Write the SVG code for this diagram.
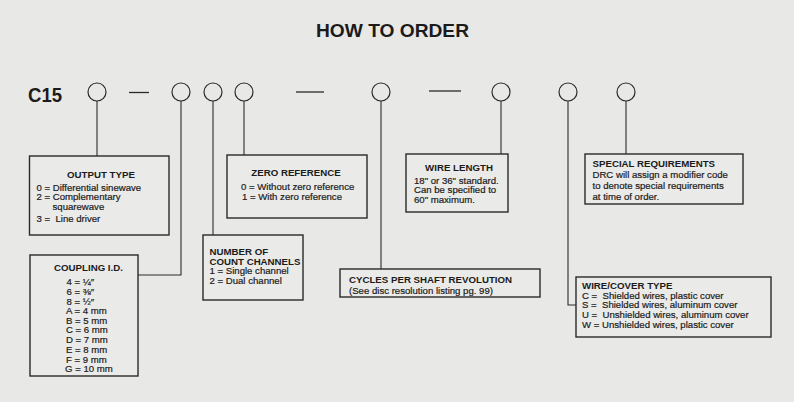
<svg xmlns="http://www.w3.org/2000/svg" width="794" height="402" viewBox="0 0 794 402">
<style>
  text { font-family: "Liberation Sans", Arial, Helvetica, sans-serif; fill: #1b1b1b; }
  .t { font-weight: bold; font-size: 9.7px; }
  .b { font-size: 9.6px; stroke: #1b1b1b; stroke-width: 0.2; }
  .c { text-anchor: middle; }
  .box { fill: #eaeae8; stroke: #2a2a2a; stroke-width: 1.4; }
  .pos { fill: none; stroke: #2a2a2a; stroke-width: 1.2; }
  .ln { fill: none; stroke: #2a2a2a; stroke-width: 1.1; }
  .dash { stroke: #2a2a2a; stroke-width: 1.3; }
</style>
<rect x="0" y="0" width="794" height="402" fill="#e8e8e6"/>

<g id="title">
  <text x="316" y="36.5" font-size="19" font-weight="bold" textLength="153" lengthAdjust="spacingAndGlyphs">HOW TO ORDER</text>
</g>

<g id="code">
  <text x="28" y="101.5" font-size="21" font-weight="bold" textLength="34" lengthAdjust="spacingAndGlyphs">C15</text>
  <circle class="pos" cx="97" cy="92" r="9"/>
  <line class="dash" x1="129" y1="92.5" x2="149" y2="92.5"/>
  <circle class="pos" cx="181" cy="92" r="9"/>
  <circle class="pos" cx="213" cy="92" r="9"/>
  <circle class="pos" cx="244" cy="92" r="9"/>
  <line class="dash" x1="296" y1="92" x2="324" y2="92"/>
  <circle class="pos" cx="381" cy="92" r="9"/>
  <line class="dash" x1="429" y1="91" x2="461" y2="91"/>
  <circle class="pos" cx="501" cy="92" r="9"/>
  <circle class="pos" cx="568" cy="92" r="9"/>
  <circle class="pos" cx="626" cy="92" r="9"/>
</g>

<g id="connectors">
  <polyline class="ln" points="97,101 97,156"/>
  <polyline class="ln" points="181,101 181,275 138,275"/>
  <polyline class="ln" points="213,101 213,235"/>
  <polyline class="ln" points="244,101 244,155"/>
  <polyline class="ln" points="381,101 381,269"/>
  <polyline class="ln" points="501,101 501,154"/>
  <polyline class="ln" points="568,101 568,305 576,305"/>
  <polyline class="ln" points="626,101 626,154"/>
</g>

<g id="output-type">
  <rect class="box" x="29.5" y="156" width="139.5" height="79"/>
  <text class="t c" x="101" y="177.5">OUTPUT TYPE</text>
  <text class="b" x="36.5" y="190.5">0 = Differential sinewave</text>
  <text class="b" x="36.5" y="200.3">2 = Complementary</text>
  <text class="b" x="52.5" y="210.1">squarewave</text>
  <text class="b" x="36.5" y="222">3 = &#160;Line driver</text>
</g>

<g id="coupling-id">
  <rect class="box" x="30" y="255" width="108" height="121"/>
  <text class="t c" x="88.5" y="271">COUPLING I.D.</text>
  <text class="b" x="66.5" y="285">4 = ¼″</text>
  <text class="b" x="66.5" y="295">6 = ⅜″</text>
  <text class="b" x="66.5" y="304.5">8 = ½″</text>
  <text class="b" x="66" y="314">A = 4 mm</text>
  <text class="b" x="66" y="323.7">B = 5 mm</text>
  <text class="b" x="66" y="333.4">C = 6 mm</text>
  <text class="b" x="66" y="343.1">D = 7 mm</text>
  <text class="b" x="66" y="352.8">E = 8 mm</text>
  <text class="b" x="66" y="362.5">F = 9 mm</text>
  <text class="b" x="65" y="372.2">G = 10 mm</text>
</g>

<g id="zero-reference">
  <rect class="box" x="227" y="155" width="140" height="63"/>
  <text class="t c" x="296" y="176">ZERO REFERENCE</text>
  <text class="b" x="241" y="189.5">0 = Without zero reference</text>
  <text class="b" x="242" y="199.5">1 = With zero reference</text>
</g>

<g id="count-channels">
  <rect class="box" x="203" y="235" width="100" height="65"/>
  <text class="t" x="209.5" y="254.5">NUMBER OF</text>
  <text class="t" x="209.5" y="264.5">COUNT CHANNELS</text>
  <text class="b" x="209.5" y="274">1 = Single channel</text>
  <text class="b" x="209.5" y="283.8">2 = Dual channel</text>
</g>

<g id="cycles">
  <rect class="box" x="340" y="269" width="200" height="28"/>
  <text class="t" x="349" y="283">CYCLES PER SHAFT REVOLUTION</text>
  <text class="b" x="349" y="294.3">(See disc resolution listing pg. 99)</text>
</g>

<g id="wire-length">
  <rect class="box" x="406" y="154" width="102" height="58"/>
  <text class="t c" x="459" y="170.5">WIRE LENGTH</text>
  <text class="b" x="414" y="183.5">18" or 36" standard.</text>
  <text class="b" x="414" y="193.3">Can be specified to</text>
  <text class="b" x="414" y="203">60" maximum.</text>
</g>

<g id="wire-cover">
  <rect class="box" x="576" y="277" width="195" height="60"/>
  <text class="t" x="582" y="288.8">WIRE/COVER TYPE</text>
  <text class="b" x="582" y="298.7">C = &#160;Shielded wires, plastic cover</text>
  <text class="b" x="582" y="308.3">S = &#160;Shielded wires, aluminum cover</text>
  <text class="b" x="582" y="318">U = &#160;Unshielded wires, aluminum cover</text>
  <text class="b" x="582" y="327.7">W = Unshielded wires, plastic cover</text>
</g>

<g id="special-requirements">
  <rect class="box" x="585" y="154" width="158" height="50"/>
  <text class="t" x="592.5" y="166.5">SPECIAL REQUIREMENTS</text>
  <text class="b" x="592.5" y="177.5">DRC will assign a modifier code</text>
  <text class="b" x="592.5" y="189">to denote special requirements</text>
  <text class="b" x="592.5" y="200">at time of order.</text>
</g>
</svg>
